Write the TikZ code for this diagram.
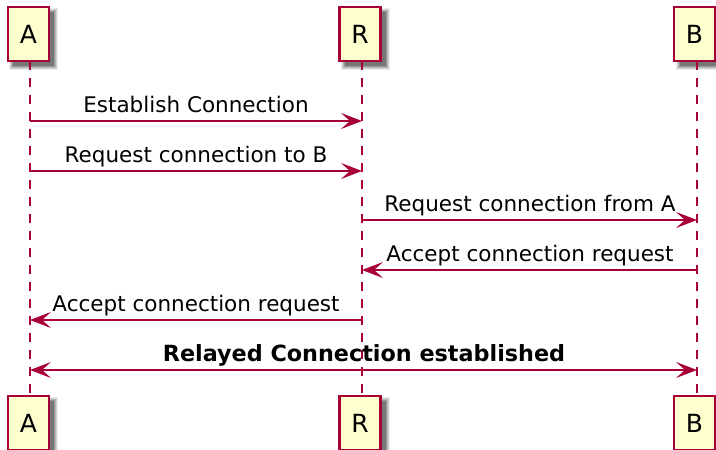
\documentclass[tikz,border=0pt]{standalone}
\usepackage{fontspec}
\setmainfont{DejaVu Sans}
\usetikzlibrary{arrows.meta}
\definecolor{umlred}{HTML}{A80036}
\definecolor{umlfill}{HTML}{FEFECE}
\newcommand{\umlfont}{\fontsize{21.5}{25}\selectfont}
\newcommand{\boxfont}{\fontsize{25}{29}\selectfont}
\tikzset{
  part/.style={draw=umlred, line width=2.4pt, fill=umlfill, minimum width=41pt, minimum height=54pt, inner sep=0pt, font=\boxfont},
  life/.style={draw=umlred, line width=1.8pt, dash pattern=on 8.5pt off 8.5pt},
  msg/.style={draw=umlred, line width=1.5pt, -{Stealth[length=21pt,width=16pt,inset=9pt]}},
  msgboth/.style={draw=umlred, line width=1.5pt, {Stealth[length=21pt,width=16pt,inset=9pt]}-{Stealth[length=21pt,width=16pt,inset=9pt]}},
  lbl/.style={anchor=base, inner sep=0pt, font=\umlfont},
}
\begin{document}
\begin{tikzpicture}[x=1pt,y=-1pt]
\useasboundingbox[fill=white] (0,0) rectangle (716,450);
% shadows
\foreach \cx in {28,360,695}{
  \foreach \y in {7,396}{
    \foreach \k/\o in {4/0.08,3/0.10,2/0.13,1/0.16,0/0.22}{
      \fill[black, opacity=\o] (\cx-20.5+5-\k,\y+5-\k) rectangle (\cx+20.5+5+\k,\y+54+5+\k);
    }
  }
}
% lifelines
\coordinate (Atop) at (30,61); \coordinate (Abot) at (30,396);
\coordinate (Rtop) at (362,61); \coordinate (Rbot) at (362,396);
\coordinate (Btop) at (697,61); \coordinate (Bbot) at (697,396);
\draw[life] (Atop) -- (Abot);
\draw[life] (Rtop) -- (Rbot);
\draw[life] (Btop) -- (Bbot);
% participants
\node[part] (A1) at (28.5,34) {A};
\node[part] (R1) at (360,34) {R};
\node[part] (B1) at (694.5,34) {B};
\node[part] (A2) at (28.5,423) {A};
\node[part] (R2) at (360,423) {R};
\node[part] (B2) at (694.5,423) {B};
% message points
\foreach \n/\y in {1/121,2/171,3/220,4/270,5/320,6/370}{
  \coordinate (a\n) at (30,\y);
  \coordinate (r\n) at (362,\y);
  \coordinate (b\n) at (697,\y);
}
\draw[msg] (a1) -- (r1);
\draw[msg] (a2) -- (r2);
\draw[msg] (r3) -- (b3);
\draw[msg] (b4) -- (r4);
\draw[msg] (r5) -- (a5);
\draw[msgboth] (a6) -- (b6);
% labels
\node[lbl] (l1) at (196,112) {Establish Connection};
\node[lbl] (l2) at (196,162) {Request connection to B};
\node[lbl] (l3) at (530,211) {Request connection from A};
\node[lbl] (l4) at (530,261) {Accept connection request};
\node[lbl] (l5) at (196,311) {Accept connection request};
\node[lbl, font=\fontsize{22.3}{26}\selectfont\bfseries] (l6) at (364,361) {Relayed Connection established};
\end{tikzpicture}
\end{document}
